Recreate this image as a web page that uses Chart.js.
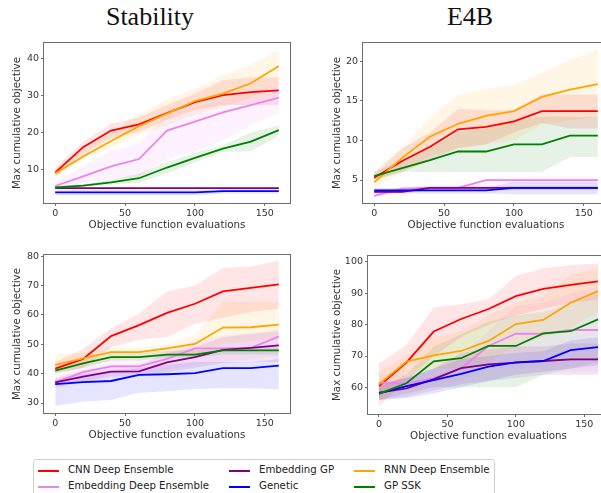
<!DOCTYPE html>
<html>
<head>
<meta charset="utf-8">
<script src="https://cdn.jsdelivr.net/npm/chart.js@4/dist/chart.umd.min.js"></script>
<style>
  body { margin: 0; width: 601px; height: 493px; overflow: hidden; background: #fff; position: relative; font-family: "DejaVu Sans", sans-serif; }
  canvas { position: absolute; }
  .title { position: absolute; font-family: "Liberation Serif", serif; font-size: 26px; color: #111; transform: translateX(-50%); white-space: nowrap; }
  #legend { position: absolute; left: 33px; top: 459px; width: 460px; height: 60px; border: 1px solid #d0d0d0; border-radius: 3px; }
  .item { position: absolute; font-size: 10.2px; color: #222; white-space: nowrap; }
  .item i { position: absolute; width: 21px; height: 2px; top: 6px; }
  .item span { position: absolute; left: 30px; top: 0; }
</style>
</head>
<body>
<div class="title" style="left:150px;top:2px">Stability</div>
<div class="title" style="left:470px;top:2px">E4B</div>
<canvas id="c1" width="300" height="205" style="left:0px;top:35px"></canvas>
<canvas id="c2" width="300" height="205" style="left:319px;top:35px"></canvas>
<canvas id="c3" width="300" height="203" style="left:0px;top:247px"></canvas>
<canvas id="c4" width="295" height="203" style="left:324px;top:248px"></canvas>
<div id="legend"></div>
<script>
// evaluations on the x axis
const evals = [0, 20, 40, 60, 80, 100, 120, 140, 160];
const xTicks = [0, 50, 100, 150];

const seriesNames = ["CNN Deep Ensemble", "Embedding Deep Ensemble", "Embedding GP", "Genetic", "RNN Deep Ensemble", "GP SSK"];

// Stability (rows follow seriesNames)
const stabilityMean = [
  [9.2, 16.1, 20.6, 22.3, 25.3, 28.3, 30.2, 31.0, 31.5],
  [5.6, 8.2, 10.9, 12.9, 20.6, 23.0, 25.5, 27.5, 29.5],
  [5.0, 5.0, 5.0, 5.0, 5.0, 5.0, 5.0, 5.0, 5.0],
  [3.9, 3.9, 3.9, 3.9, 3.9, 3.9, 4.2, 4.2, 4.2],
  [9.0, 13.6, 17.8, 21.8, 25.2, 28.6, 30.6, 33.4, 38.1],
  [5.2, 5.7, 6.6, 7.7, 10.6, 13.2, 15.7, 17.6, 20.7]
];
const stabilityLow = [
  [8.0, 14.2, 18.6, 20.2, 23.5, 26.2, 27.5, 27.5, 27.5],
  [5.0, 6.5, 7.5, 8.2, 13.0, 15.0, 18.0, 22.0, 25.5],
  [4.8, 4.8, 4.8, 4.8, 4.8, 4.8, 4.8, 4.8, 4.8],
  [3.0, 3.0, 3.0, 3.0, 3.0, 3.0, 3.6, 3.6, 3.6],
  [8.0, 12.8, 16.0, 19.5, 22.0, 25.0, 27.0, 29.5, 33.5],
  [4.8, 5.3, 6.0, 6.5, 9.0, 12.0, 14.8, 15.0, 19.2]
];
const stabilityHigh = [
  [10.5, 17.6, 22.5, 24.2, 27.5, 30.6, 34.2, 35.0, 35.0],
  [6.5, 11.0, 15.0, 17.2, 25.0, 27.0, 29.0, 31.0, 33.0],
  [5.2, 5.2, 5.2, 5.2, 5.2, 5.2, 5.2, 5.2, 5.2],
  [4.6, 4.6, 4.6, 4.6, 4.6, 4.6, 4.8, 4.8, 4.8],
  [10.5, 15.5, 20.0, 25.0, 29.0, 32.0, 35.5, 38.5, 42.5],
  [5.6, 6.1, 7.3, 9.0, 12.0, 14.6, 16.6, 20.0, 22.0]
];
const stabilityTicks = [10, 20, 30, 40];

// E4B
const e4bMean = [
  [5.3, 7.4, 9.2, 11.4, 11.7, 12.4, 13.7, 13.7, 13.7],
  [3.0, 3.9, 4.0, 4.0, 5.0, 5.0, 5.0, 5.0, 5.0],
  [3.5, 3.5, 4.0, 4.0, 4.0, 4.0, 4.0, 4.0, 4.0],
  [3.7, 3.7, 3.7, 3.7, 3.7, 4.0, 4.0, 4.0, 4.0],
  [4.7, 7.8, 10.5, 12.1, 13.1, 13.7, 15.5, 16.4, 17.1],
  [5.5, 6.5, 7.5, 8.6, 8.6, 9.5, 9.5, 10.6, 10.6]
];
const e4bLow = [
  [5.0, 6.0, 7.5, 9.0, 9.5, 11.0, 12.2, 11.5, 11.5],
  [2.9, 3.5, 3.7, 3.7, 4.5, 4.5, 4.5, 4.5, 4.5],
  [3.3, 3.3, 3.7, 3.7, 3.7, 3.7, 3.7, 3.7, 3.7],
  [3.3, 3.3, 3.3, 3.3, 3.3, 3.2, 3.2, 3.2, 3.2],
  [4.0, 6.0, 8.0, 9.0, 9.5, 10.0, 12.0, 12.5, 13.0],
  [5.0, 6.0, 6.0, 6.0, 6.0, 6.0, 6.0, 7.9, 7.9]
];
const e4bHigh = [
  [6.0, 9.0, 11.0, 14.0, 13.8, 13.8, 15.8, 15.8, 15.8],
  [3.2, 4.2, 4.2, 4.2, 5.2, 5.2, 5.2, 5.2, 5.2],
  [3.8, 3.8, 4.3, 4.3, 4.3, 4.3, 4.3, 4.3, 4.3],
  [4.0, 4.0, 4.0, 4.0, 4.0, 4.8, 4.8, 4.8, 4.8],
  [5.5, 9.0, 13.0, 15.8, 16.5, 17.0, 18.5, 20.2, 21.5],
  [6.0, 7.5, 9.0, 11.0, 11.5, 12.5, 13.0, 13.0, 13.0]
];
const e4bTicks = [5, 10, 15, 20];

// lower left panel
const panel3Mean = [
  [41.7, 45.0, 52.8, 56.5, 60.7, 63.8, 68.0, 69.2, 70.4],
  [37.0, 40.5, 42.5, 42.5, 45.0, 48.6, 48.6, 48.8, 52.6],
  [37.0, 39.0, 40.7, 40.8, 43.8, 45.6, 48.1, 48.8, 49.6],
  [36.4, 37.1, 37.5, 39.6, 39.8, 40.2, 41.9, 41.9, 42.7],
  [43.0, 45.2, 47.3, 47.3, 48.6, 50.1, 55.7, 55.8, 56.7],
  [41.0, 43.5, 45.6, 45.6, 46.5, 46.5, 47.9, 47.9, 47.9]
];
const panel3Low = [
  [40.0, 42.0, 49.0, 51.5, 52.5, 57.0, 59.0, 61.0, 62.0],
  [35.0, 37.0, 40.0, 40.0, 41.0, 43.0, 44.0, 45.0, 46.0],
  [35.5, 37.0, 39.0, 39.0, 40.5, 42.0, 43.5, 44.0, 44.0],
  [29.0, 30.5, 31.0, 33.5, 34.0, 34.8, 35.0, 35.0, 34.7],
  [41.0, 42.0, 44.5, 45.0, 46.0, 46.0, 50.0, 51.0, 52.0],
  [40.0, 42.0, 44.5, 44.5, 45.5, 45.5, 46.5, 46.5, 46.5]
];
const panel3High = [
  [44.0, 48.5, 55.5, 60.5, 68.0, 70.0, 76.0, 76.5, 78.5],
  [39.0, 43.0, 45.0, 45.0, 48.0, 51.0, 53.0, 54.0, 55.0],
  [38.5, 41.0, 43.0, 43.0, 47.0, 49.0, 52.5, 53.5, 54.5],
  [38.0, 40.0, 41.0, 42.0, 43.0, 44.0, 44.0, 44.0, 45.0],
  [46.5, 47.0, 49.0, 49.0, 50.0, 53.0, 64.5, 64.5, 64.5],
  [42.0, 45.0, 47.0, 47.0, 48.0, 48.0, 49.0, 49.0, 49.0]
];
const panel3Ticks = [30, 40, 50, 60, 70, 80];

// lower right panel
const panel4Mean = [
  [60.4, 67.9, 77.8, 81.8, 85.0, 89.1, 91.4, 92.7, 93.8],
  [61.5, 61.3, 62.9, 66.1, 73.2, 77.1, 77.1, 78.3, 78.3],
  [58.3, 59.7, 62.6, 66.1, 67.3, 67.9, 68.4, 68.9, 68.9],
  [58.1, 60.4, 62.3, 64.3, 66.6, 68.0, 68.4, 71.9, 72.8],
  [61.0, 68.2, 70.2, 71.6, 74.8, 80.2, 81.5, 87.0, 90.7],
  [57.9, 61.3, 68.3, 69.3, 73.2, 73.2, 77.2, 77.9, 81.7]
];
const panel4Low = [
  [54.0, 62.0, 70.0, 76.0, 80.0, 83.0, 85.0, 87.0, 88.0],
  [59.0, 59.0, 60.0, 62.0, 66.0, 66.0, 66.0, 65.0, 65.0],
  [56.0, 57.0, 59.0, 61.0, 62.0, 63.0, 64.0, 64.0, 64.0],
  [56.0, 56.5, 58.0, 60.0, 62.0, 64.0, 65.0, 66.0, 67.0],
  [57.0, 64.0, 66.0, 66.0, 68.0, 73.0, 76.0, 79.0, 84.0],
  [56.0, 58.0, 60.0, 60.0, 60.0, 60.0, 64.0, 66.0, 68.0]
];
const panel4High = [
  [67.5, 73.5, 85.5, 86.5, 88.0, 95.5, 98.0, 99.0, 99.5],
  [64.0, 64.0, 66.0, 70.0, 78.0, 86.0, 87.0, 90.0, 92.0],
  [61.0, 63.0, 66.0, 71.0, 72.0, 73.0, 73.0, 74.0, 74.0],
  [61.0, 63.0, 66.0, 69.0, 70.0, 71.0, 71.5, 75.0, 76.0],
  [65.0, 70.0, 76.0, 78.0, 83.0, 87.0, 89.0, 96.0, 98.0],
  [60.0, 64.0, 73.0, 77.0, 81.0, 83.0, 84.0, 87.0, 90.0]
];
const panel4Ticks = [60, 70, 80, 90, 100];

const colors = ["#ff0000", "#ee82ee", "#800080", "#0000ff", "#ffa500", "#008000"];
const bandColors = ["rgba(255,0,0,0.1)", "rgba(238,130,238,0.1)", "rgba(128,0,128,0.1)",
  "rgba(0,0,255,0.1)", "rgba(255,165,0,0.1)", "rgba(0,128,0,0.1)"];

const frameColor = "#6e6e6e";
const textColor = "#333";

// draws the full box round the plot area
const framePlugin = {
  id: "frame",
  afterDatasetsDraw(chart) {
    const a = chart.chartArea;
    const ctx = chart.ctx;
    ctx.save();
    ctx.strokeStyle = frameColor;
    ctx.lineWidth = 1;
    ctx.strokeRect(Math.round(a.left) - 0.5, Math.round(a.top) - 0.5,
      Math.round(a.right - a.left) + 1, Math.round(a.bottom - a.top) + 1);
    ctx.restore();
  }
};

function pts(vals) {
  return evals.map((x, i) => ({ x: x, y: vals[i] }));
}

function makePanel(id, means, lows, highs, yTicks, yMin, yMax, yTitlePad) {
  const datasets = [];
  means.forEach((m, s) => {
    datasets.push({
      data: pts(lows[s]), borderWidth: 0, borderColor: "transparent",
      pointRadius: 0, fill: false, order: 100
    });
    datasets.push({
      data: pts(highs[s]), borderWidth: 0, borderColor: "transparent",
      backgroundColor: bandColors[s], pointRadius: 0, fill: "-1", order: 100
    });
  });
  means.forEach((m, s) => {
    datasets.push({
      label: seriesNames[s], data: pts(m), borderColor: colors[s], borderWidth: 1.8,
      pointRadius: 0, fill: false, order: 10 - s
    });
  });

  const tickFont = { family: "DejaVu Sans", size: 9.5 };
  const titleFont = { family: "DejaVu Sans", size: 10.3 };

  new Chart(document.getElementById(id), {
    type: "line",
    data: { datasets: datasets },
    plugins: [framePlugin],
    options: {
      responsive: false,
      animation: false,
      layout: { padding: { left: 0, top: 8, right: 10, bottom: 0 } },
      plugins: {
        legend: { display: false },
        tooltip: { enabled: false },
        filler: { drawTime: "beforeDatasetsDraw" }
      },
      scales: {
        x: {
          type: "linear", min: -8, max: 168,
          afterBuildTicks: (sc) => { sc.ticks = xTicks.map(v => ({ value: v })); },
          afterFit: (sc) => { sc.height = 37; },
          grid: { drawOnChartArea: false, drawTicks: true, tickLength: 3, color: frameColor },
          border: { display: false },
          ticks: { font: tickFont, color: textColor, padding: 2, maxRotation: 0 },
          title: { display: true, text: "Objective function evaluations", font: titleFont,
            color: textColor, padding: { top: 0, bottom: 8 } }
        },
        y: {
          type: "linear", min: yMin, max: yMax,
          afterBuildTicks: (sc) => { sc.ticks = yTicks.map(v => ({ value: v })); },
          afterFit: (sc) => { sc.width = 44; },
          grid: { drawOnChartArea: false, drawTicks: true, tickLength: 3, color: frameColor },
          border: { display: false },
          ticks: { font: tickFont, color: textColor, padding: 2 },
          title: { display: true, text: "Max cumulative objective", font: titleFont,
            color: textColor, padding: { top: yTitlePad, bottom: 0 } }
        }
      }
    }
  });
}

makePanel("c1", stabilityMean, stabilityLow, stabilityHigh, stabilityTicks, 1, 44.3, 11);
makePanel("c2", e4bMean, e4bLow, e4bHigh, e4bTicks, 2.1, 22.3, 12);
makePanel("c3", panel3Mean, panel3Low, panel3High, panel3Ticks, 26.6, 80.4, 11);
makePanel("c4", panel4Mean, panel4Low, panel4High, panel4Ticks, 51.5, 101.9, 7.5);

// legend, three columns filled top to bottom
const legend = document.getElementById("legend");
const colX = [4, 195, 320];
const rowY = [4, 20];
seriesNames.forEach((name, s) => {
  const item = document.createElement("div");
  item.className = "item";
  item.style.left = colX[Math.floor(s / 2)] + "px";
  item.style.top = rowY[s % 2] + "px";
  item.innerHTML = '<i style="background:' + colors[s] + '"></i><span>' + name + '</span>';
  legend.appendChild(item);
});
</script>
</body>
</html>
